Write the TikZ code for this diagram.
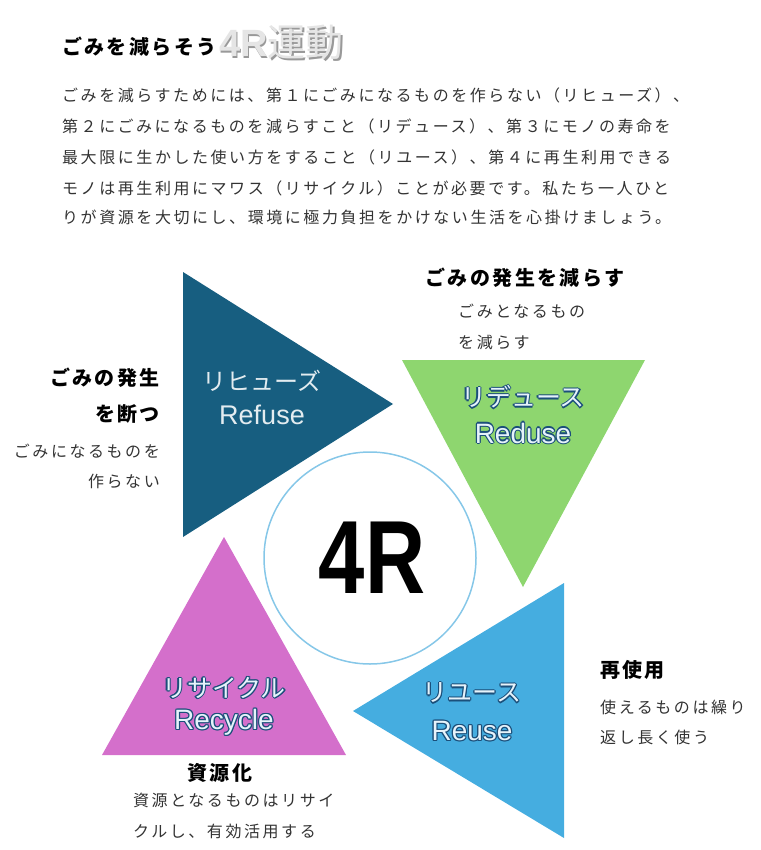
\documentclass[tikz,border=0pt]{standalone}
\usepackage{fontspec}
\setmainfont{Noto Sans CJK JP}
\newfontfamily\latinf{Liberation Sans}
\newfontfamily\bodyf[LetterSpace=16]{Noto Sans CJK JP}
\newfontfamily\headf[LetterSpace=12]{Noto Sans CJK JP}
\definecolor{refc}{HTML}{175E80}
\definecolor{redc}{HTML}{8ED66F}
\definecolor{reuc}{HTML}{45ADE0}
\definecolor{recc}{HTML}{D46FCB}
\definecolor{circc}{HTML}{86C7E8}
\definecolor{txt}{HTML}{333333}
\definecolor{outl}{HTML}{1B4F7A}
\definecolor{inner}{HTML}{E6F3FB}
\tikzset{
  body/.style={anchor=west,font=\bodyf\fontsize{16}{17}\selectfont,text=txt,inner sep=0},
  head/.style={font=\headf\bfseries\fontsize{20}{21}\selectfont,text=black,inner sep=0},
}
\newcommand{\glow}[3]{%
  \foreach \dx/\dy in {-1.2/0,1.2/0,0/-1.2,0/1.2,-.85/-.85,.85/.85,-.85/.85,.85/-.85}
    {\node[text=outl,font=#3,inner sep=0] at ($(#1)+(\dx,\dy)$) {#2};}
  \node[text=inner,font=#3,inner sep=0] at (#1) {#2};}
\usetikzlibrary{calc}
\begin{document}
\begin{tikzpicture}[x=1pt,y=-1pt]
\useasboundingbox (0,0) rectangle (760,850);
% title
\node[anchor=west,inner sep=0,font=\headf\bfseries\fontsize{20}{21}\selectfont] (title) at (62,47) {ごみを減らそう};
\node[anchor=west,inner sep=0,font=\bfseries\fontsize{38}{40}\selectfont,text=black!40] at ($(title.east)+(3.5,-3)$) {\latinf\bfseries 4R\rmfamily\mdseries 運動};
\node[anchor=west,inner sep=0,font=\bfseries\fontsize{38}{40}\selectfont,text=black!10] at ($(title.east)+(2,-4.5)$) {\latinf\bfseries 4R\rmfamily\mdseries 運動};
% body
\node[body] (l1) at (62,95) {ごみを減らすためには、第１にごみになるものを作らない（リヒューズ）、};
\node[body] (l2) at (62,126) {第２にごみになるものを減らすこと（リデュース）、第３にモノの寿命を};
\node[body] (l3) at (62,157) {最大限に生かした使い方をすること（リユース）、第４に再生利用できる};
\node[body] (l4) at (62,188) {モノは再生利用にマワス（リサイクル）ことが必要です。私たち一人ひと};
\node[body] (l5) at (62,217) {りが資源を大切にし、環境に極力負担をかけない生活を心掛けましょう。};
% circle
\draw[circc,line width=1.5pt] (370,558) circle (106);
\node[font=\latinf\bfseries\fontsize{104}{104}\selectfont,inner sep=0,xscale=0.8,transform shape] (c4r) at (372,558) {4R};
% triangles
\fill[refc] (183,272) -- (183,537) -- (393,404) -- cycle;
\fill[redc] (402,360) -- (645,360) -- (523,587) -- cycle;
\fill[reuc] (564,583) -- (564,838) -- (353,711) -- cycle;
\fill[recc] (224,537) -- (102,755) -- (346,755) -- cycle;
% triangle labels
\node[text=white!88!refc,font=\fontsize{24}{26}\selectfont,inner sep=0] (rf1) at (262,381) {リヒューズ};
\node[text=white!88!refc,font=\latinf\fontsize{27}{28}\selectfont,inner sep=0] (rf2) at (262,415) {Refuse};
\glow{523,397}{リデュース}{\fontsize{25}{26}\selectfont}
\glow{523,433}{Reduse}{\latinf\fontsize{28}{28}\selectfont}
\glow{472,693}{リユース}{\fontsize{25}{26}\selectfont}
\glow{472,731}{Reuse}{\latinf\fontsize{28}{28}\selectfont}
\glow{224,688}{リサイクル}{\fontsize{25}{26}\selectfont}
\glow{224,722}{Recycle}{\latinf\fontsize{28}{28}\selectfont}
% side labels
\node[head] (h1) at (525,278) {ごみの発生を減らす};
\node[body] (h1a) at (458,311) {ごみとなるもの};
\node[body] (h1b) at (458,342) {を減らす};
\node[head,anchor=east] (h2) at (160,378) {ごみの発生};
\node[head,anchor=east] (h2b) at (160,414) {を断つ};
\node[body,anchor=east] (h2c) at (160,451) {ごみになるものを};
\node[body,anchor=east] (h2d) at (160,481) {作らない};
\node[head,anchor=west] (h3) at (600,670) {再使用};
\node[body] (h3a) at (600,707) {使えるものは繰り};
\node[body] (h3b) at (600,737) {返し長く使う};
\node[head] (h4) at (220,773) {資源化};
\node[body] (h4a) at (133,800) {資源となるものはリサイ};
\node[body] (h4b) at (133,831) {クルし、有効活用する};
\end{tikzpicture}
\end{document}
